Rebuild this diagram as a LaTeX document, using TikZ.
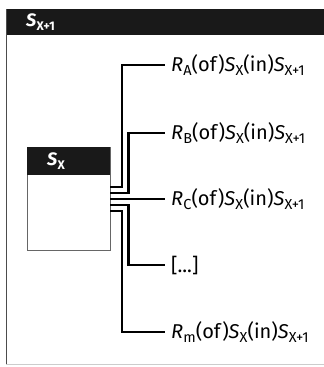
\documentclass[tikz,border=0pt]{standalone}
\usepackage{fontspec}
\setmainfont{Fira Sans}
\newcommand\isub[2]{\textit{#1}\kern0.01em\raisebox{-0.2em}{\fontsize{14.5}{14.5}\selectfont #2}}
\newcommand\hsub[2]{\textit{#1}\kern0.01em\raisebox{-0.2em}{\fontsize{12.5}{12.5}\selectfont #2}}
\newcommand\rlabel[1]{\isub{R}{#1}(of)\isub{S}{X}(in)\isub{S}{X+1}}
\tikzset{
  conn/.style={line width=2.5pt, line cap=butt, line join=miter},
  lbl/.style={anchor=west, inner sep=6pt, font=\fontsize{20}{20}\selectfont},
  headtxt/.style={anchor=west, text=white, inner sep=0pt, font=\fontsize{18}{18}\selectfont\bfseries},
}
\begin{document}
\begin{tikzpicture}[x=1pt,y=1pt]
\useasboundingbox (0,0) rectangle (324,-367);
% outer frame
\fill[black!90] (6,-9) rectangle (324,-35);
\node[headtxt] (outerhead) at (26,-22) {\hsub{S}{X+1}};
\draw[black!70, line width=1.5pt] (6.5,-9) -- (6.5,-365);
\draw[black!20, line width=1pt] (6,-364.5) -- (324,-364.5);
% inner box
\node[draw=black!60, line width=0.8pt, minimum width=83pt, minimum height=103pt, inner sep=0pt] (box) at (68.5,-198.5) {};
\fill[black!90] (box.north west) rectangle ([yshift=-28pt]box.north east);
\node[headtxt] (boxhead) at (47,-161) {\hsub{S}{X}};
% labels
\node[lbl] (la) at (165,-65) {\rlabel{A}};
\node[lbl] (lb) at (165,-133) {\rlabel{B}};
\node[lbl] (lc) at (165,-199) {\rlabel{C}};
\node[lbl] (ld) at (165,-265) {[...]};
\node[lbl] (lm) at (165,-332) {\rlabel{m}};
% connectors
\draw[conn] (box.east |- 0,-187) -- (122,-187) |- (la.west);
\draw[conn] (box.east |- 0,-193) -- (128.5,-193) |- (lb.west);
\draw[conn] (box.east |- lc.west) -- (lc.west);
\draw[conn] (box.east |- 0,-205) -- (128.5,-205) |- (ld.west);
\draw[conn] (box.east |- 0,-211) -- (122,-211) |- (lm.west);
\end{tikzpicture}
\end{document}
